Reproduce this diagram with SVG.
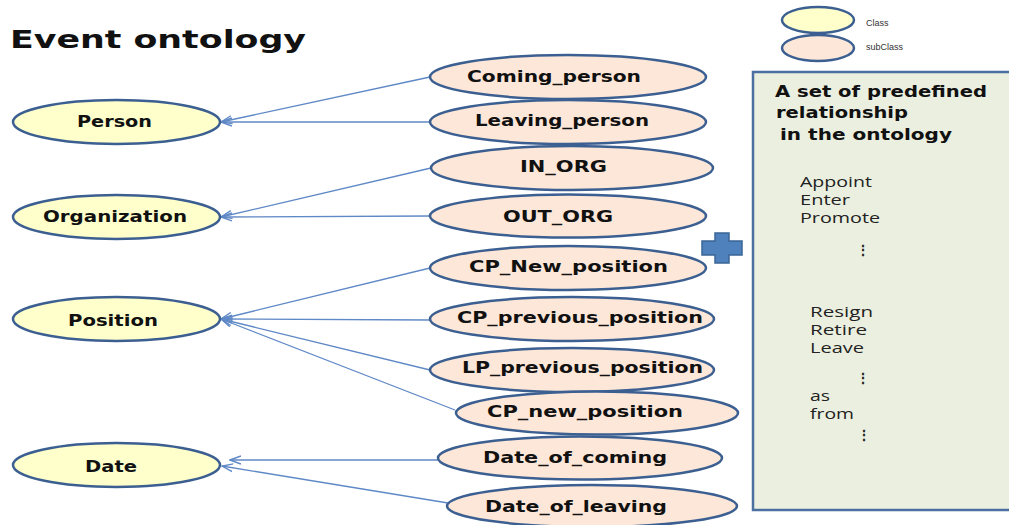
<svg xmlns="http://www.w3.org/2000/svg" width="1009" height="525" viewBox="0 0 1009 525">
<defs>
<style>
.cls{fill:#ffffcc;stroke:#3c5f91;stroke-width:2.5}
.sub{fill:#fde7d8;stroke:#3c5f91;stroke-width:2.5}
.lbl{font-family:"DejaVu Sans",Verdana,sans-serif;font-weight:bold;font-size:15px;fill:#111}
.con{stroke:#5f88c6;stroke-width:1.3;fill:none;marker-end:url(#arr)}
.box{font-family:"Open Sans","Liberation Sans",sans-serif;font-size:14px;fill:#222}
.hd{font-family:"DejaVu Sans",Verdana,sans-serif;font-weight:bold;font-size:15px;fill:#111}
.leg{font-family:"Liberation Sans",Arial,sans-serif;font-size:9px;fill:#333}
</style>
<marker id="arr" viewBox="0 0 12 10" refX="11" refY="5" markerWidth="12" markerHeight="10" markerUnits="userSpaceOnUse" orient="auto">
<path d="M0,1 L11,5 L0,9" fill="none" stroke="#5f88c6" stroke-width="1.4"/>
</marker>
</defs>
<rect width="1009" height="525" fill="#ffffff"/>
<text x="10" y="48" font-family="DejaVu Sans,Verdana,sans-serif" font-weight="bold" font-size="24" fill="#111" textLength="296" lengthAdjust="spacingAndGlyphs">Event ontology</text>

<g id="connectors">
<line class="con" x1="430" y1="77" x2="221" y2="122"/>
<line class="con" x1="430" y1="122" x2="221" y2="122"/>
<line class="con" x1="431" y1="168" x2="221" y2="217"/>
<line class="con" x1="430" y1="216" x2="221" y2="217"/>
<line class="con" x1="430" y1="268" x2="221" y2="319"/>
<line class="con" x1="430" y1="320" x2="221" y2="319"/>
<line class="con" x1="430" y1="370" x2="221" y2="319"/>
<line class="con" x1="455" y1="410" x2="221" y2="319"/>
<line class="con" x1="440" y1="460" x2="230" y2="460"/>
<line class="con" x1="448" y1="503" x2="222" y2="466"/>
</g>

<g id="person"><ellipse class="cls" cx="116.5" cy="122" rx="103.5" ry="22"/><text class="lbl" x="77" y="127" textLength="75" lengthAdjust="spacingAndGlyphs">Person</text></g>
<g id="organization"><ellipse class="cls" cx="116.5" cy="217" rx="103.5" ry="22"/><text class="lbl" x="43" y="222" textLength="144" lengthAdjust="spacingAndGlyphs">Organization</text></g>
<g id="position"><ellipse class="cls" cx="116.5" cy="319" rx="103.5" ry="22"/><text class="lbl" x="68" y="326" textLength="90" lengthAdjust="spacingAndGlyphs">Position</text></g>
<g id="date"><ellipse class="cls" cx="116.5" cy="465" rx="103.5" ry="22"/><text class="lbl" x="85" y="472" textLength="52" lengthAdjust="spacingAndGlyphs">Date</text></g>

<g id="coming_person"><ellipse class="sub" cx="568" cy="77" rx="138" ry="22"/><text class="lbl" x="467" y="82" textLength="174" lengthAdjust="spacingAndGlyphs">Coming_person</text></g>
<g id="leaving_person"><ellipse class="sub" cx="568" cy="122" rx="138" ry="22"/><text class="lbl" x="475" y="126" textLength="174" lengthAdjust="spacingAndGlyphs">Leaving_person</text></g>
<g id="in_org"><ellipse class="sub" cx="572" cy="168" rx="141" ry="22"/><text class="lbl" x="520" y="172" textLength="87" lengthAdjust="spacingAndGlyphs">IN_ORG</text></g>
<g id="out_org"><ellipse class="sub" cx="568" cy="216" rx="138" ry="21.5"/><text class="lbl" x="503" y="222" textLength="110" lengthAdjust="spacingAndGlyphs">OUT_ORG</text></g>
<g id="cp_new_position_1"><ellipse class="sub" cx="568" cy="268" rx="138" ry="22"/><text class="lbl" x="469" y="272" textLength="199" lengthAdjust="spacingAndGlyphs">CP_New_position</text></g>
<g id="cp_previous_position"><ellipse class="sub" cx="572" cy="319" rx="142" ry="22"/><text class="lbl" x="457" y="323" textLength="246" lengthAdjust="spacingAndGlyphs">CP_previous_position</text></g>
<g id="lp_previous_position"><ellipse class="sub" cx="572" cy="370" rx="142" ry="22"/><text class="lbl" x="462" y="373" textLength="241" lengthAdjust="spacingAndGlyphs">LP_previous_position</text></g>
<g id="cp_new_position_2"><ellipse class="sub" cx="597" cy="413" rx="141" ry="21.5"/><text class="lbl" x="487" y="417" textLength="196" lengthAdjust="spacingAndGlyphs">CP_new_position</text></g>
<g id="date_of_coming"><ellipse class="sub" cx="580" cy="458" rx="142" ry="21.5"/><text class="lbl" x="483" y="463" textLength="184" lengthAdjust="spacingAndGlyphs">Date_of_coming</text></g>
<g id="date_of_leaving"><ellipse class="sub" cx="592" cy="506" rx="145" ry="21"/><text class="lbl" x="485" y="512" textLength="182" lengthAdjust="spacingAndGlyphs">Date_of_leaving</text></g>

<g id="legend">
<ellipse class="cls" cx="818" cy="20" rx="36" ry="13"/>
<ellipse class="sub" cx="818" cy="48" rx="36" ry="13"/>
<text class="leg" x="866" y="26">Class</text>
<text class="leg" x="866" y="50">subClass</text>
</g>

<g id="plus">
<path d="M715,233 H729 V241 H742 V255 H729 V263 H715 V255 H702 V241 H715 Z" fill="#4f81bd" stroke="#3a6496" stroke-width="1.5"/>
</g>

<g id="relationships">
<rect x="753" y="72" width="270" height="438" fill="#ebefdf" stroke="#4a6fa0" stroke-width="2.5"/>
<text class="hd" x="775" y="97" textLength="212" lengthAdjust="spacingAndGlyphs">A set of predefined</text>
<text class="hd" x="776" y="118" textLength="132" lengthAdjust="spacingAndGlyphs">relationship</text>
<text class="hd" x="780" y="140" textLength="172" lengthAdjust="spacingAndGlyphs">in the ontology</text>
<text class="box" x="800" y="187" textLength="72" lengthAdjust="spacingAndGlyphs">Appoint</text>
<text class="box" x="800" y="205" textLength="50" lengthAdjust="spacingAndGlyphs">Enter</text>
<text class="box" x="800" y="223" textLength="80" lengthAdjust="spacingAndGlyphs">Promote</text>
<text class="box" x="863" y="255" text-anchor="middle" font-weight="bold">⋮</text>
<text class="box" x="810" y="317" textLength="63" lengthAdjust="spacingAndGlyphs">Resign</text>
<text class="box" x="810" y="335" textLength="57" lengthAdjust="spacingAndGlyphs">Retire</text>
<text class="box" x="810" y="353" textLength="54" lengthAdjust="spacingAndGlyphs">Leave</text>
<text class="box" x="863" y="383" text-anchor="middle" font-weight="bold">⋮</text>
<text class="box" x="810" y="401" textLength="20" lengthAdjust="spacingAndGlyphs">as</text>
<text class="box" x="810" y="419" textLength="44" lengthAdjust="spacingAndGlyphs">from</text>
<text class="box" x="864" y="440" text-anchor="middle" font-weight="bold">⋮</text>
</g>
</svg>
